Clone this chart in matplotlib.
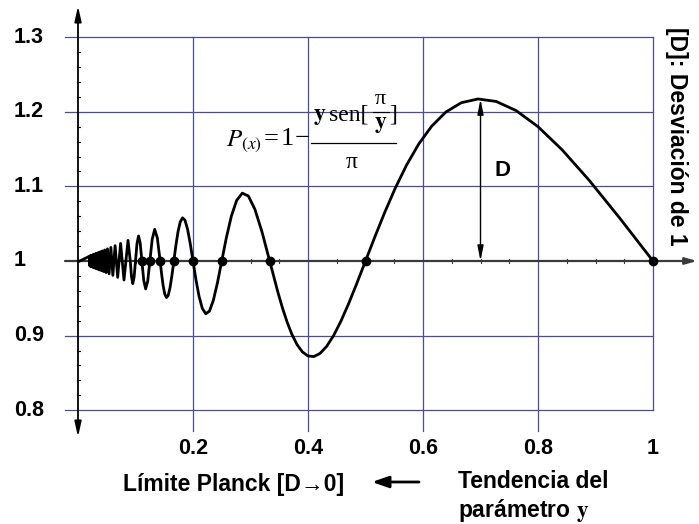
import matplotlib
matplotlib.use("Agg")
import matplotlib.pyplot as plt

plt.rcParams['mathtext.fontset'] = 'stix'
plt.rcParams['font.family'] = ['Liberation Sans', 'DejaVu Sans']

# ---- data: P(y) (y parameter, P value) ----
y_param = [0.003,
           0.02020, 0.02062, 0.02105, 0.02151, 0.02198, 0.02247, 0.02299, 0.02353, 0.02410, 0.02469,
           0.02532, 0.02597, 0.02667, 0.02740, 0.02817, 0.02899, 0.02985, 0.03077, 0.03175, 0.03279,
           0.03333, 0.03390, 0.03448, 0.03509, 0.03571, 0.03636, 0.03704, 0.03774, 0.03846, 0.03922,
           0.04000, 0.04082, 0.04167, 0.04255, 0.04348, 0.04444, 0.04545, 0.04651, 0.04762, 0.04878,
           0.05000, 0.05128, 0.05263, 0.05405, 0.05556, 0.05714, 0.05882, 0.06061, 0.06250, 0.06452,
           0.06667, 0.06897, 0.07143, 0.07407, 0.07692, 0.08000, 0.08333, 0.08696, 0.09091,
           0.09302, 0.09524, 0.09756, 0.10000, 0.10256, 0.10526, 0.10811, 0.11111, 0.11429, 0.11765,
           0.12121, 0.12500, 0.12903, 0.13333, 0.13793, 0.14286,
           0.14545, 0.14815, 0.15094, 0.15385, 0.15686, 0.16000, 0.16327, 0.16667,
           0.17021, 0.17391, 0.17778, 0.18182, 0.18605, 0.19048, 0.19512, 0.20000,
           0.20513, 0.21053, 0.21622, 0.22222, 0.22857, 0.23529, 0.24242, 0.25000,
           0.25806, 0.26667, 0.27586, 0.28571, 0.29630, 0.30769, 0.32000, 0.33333,
           0.34043, 0.34783, 0.35556, 0.36364, 0.37209, 0.38095, 0.39024, 0.40000,
           0.41026, 0.42105, 0.43243, 0.44444, 0.45714, 0.47059, 0.48485, 0.50000,
           0.51613, 0.53333, 0.55172, 0.57143, 0.59259, 0.61538, 0.64000, 0.66667,
           0.69565, 0.72727, 0.76190, 0.80000, 0.84211, 0.88889, 0.94118, 1.00000]
p_value = [1.0,
           1.00643, 0.99344, 1.00670, 0.99315, 1.00700, 0.99285, 1.00732, 0.99251, 1.00767, 0.99214,
           1.00806, 0.99173, 1.00849, 0.99128, 1.00897, 0.99077, 1.00950, 0.99021, 1.01011, 0.98956,
           1.0, 1.01079, 1.0, 0.98883, 1.0, 1.01157, 1.0, 0.98799, 1.0, 1.01248,
           1.0, 0.98701, 1.0, 1.01355, 1.0, 0.98585, 1.0, 1.01481, 1.0, 0.98447,
           1.0, 1.01632, 1.0, 0.98279, 1.0, 1.01819, 1.0, 0.98071, 1.0, 1.02054,
           1.0, 0.97805, 1.0, 1.02358, 1.0, 0.97454, 1.0, 1.02768, 1.0,
           0.97906, 0.96968, 0.97804, 1.0, 1.02309, 1.03351, 1.02433, 1.0, 0.97428, 0.96255,
           0.97272, 1.0, 1.02904, 1.04244, 1.03105, 1.0,
           0.98228, 0.96665, 0.95561, 0.95103, 0.95387, 0.96399, 0.98011, 1.0,
           1.02073, 1.03914, 1.05228, 1.05787, 1.05471, 1.04287, 1.02377, 1.0,
           0.97501, 0.95261, 0.93641, 0.92926, 0.93278, 0.94704, 0.97047, 1.0,
           1.03144, 1.06002, 1.08113, 1.09095, 1.08713, 1.06926, 1.03898, 1.0,
           0.97886, 0.95763, 0.93712, 0.91815, 0.90152, 0.88797, 0.87817, 0.87268,
           0.87192, 0.87618, 0.88555, 0.89996, 0.91916, 0.94268, 0.96989, 1.0,
           1.03205, 1.06497, 1.09757, 1.12862, 1.15684, 1.18097, 1.19981, 1.21221,
           1.21718, 1.21388, 1.20165, 1.18006, 1.14892, 1.10828, 1.05845, 1.0]

zero_x = [1.0, 0.5, 0.33333, 0.25, 0.2, 0.16667, 0.14286, 0.125, 0.11111]
zero_y = [1.0, 1.0, 1.0, 1.0, 1.0, 1.0, 1.0, 1.0, 1.0]

x_ticks = [0.2, 0.4, 0.6, 0.8, 1.0]
x_tick_labels = ['0.2', '0.4', '0.6', '0.8', '1']
y_ticks = [0.8, 0.9, 1.0, 1.1, 1.2, 1.3]
y_tick_labels = ['0.8', '0.9', '1', '1.1', '1.2', '1.3']

peak_x = 0.7
peak_y = 1.217

# ---- figure ----
W, H = 699, 524
fig = plt.figure(figsize=(W / 100, H / 100), dpi=100)
ax = fig.add_axes([0, 0, 1, 1])
ax.set_axis_off()

X0, SX = 78, 575.0     # pixel of x=0, pixels per unit
Y1, SY = 261, 746.0    # pixel of y=1, pixels per unit
ax.set_xlim(-X0 / SX, (W - X0) / SX)
ax.set_ylim(1 - (H - Y1) / SY, 1 + Y1 / SY)

def px(p):
    return (p - X0) / SX

def py(p):
    return 1 + (Y1 - p) / SY

grid_c = '#4b4b9a'
# horizontal grid lines
for yv in y_ticks:
    if yv != 1.0:
        ax.plot([px(65), 1.0], [yv, yv], color=grid_c, lw=0.9, zorder=1)
# vertical grid lines
for xv in x_ticks:
    bottom = 0.8 if xv == 1.0 else py(431)
    ax.plot([xv, xv], [bottom, 1.3], color=grid_c, lw=0.9, zorder=1)

# x axis (line at 1) with arrow
ax.annotate('', xy=(px(697), 1.0), xytext=(px(65), 1.0),
            arrowprops=dict(arrowstyle='-|>,head_length=0.7,head_width=0.2',
                            color='#3a3a3a', lw=1.6, shrinkA=0, shrinkB=0), zorder=2)
# y axis with arrows both ends
ax.annotate('', xy=(0, py(6)), xytext=(0, py(437)),
            arrowprops=dict(arrowstyle='<|-|>,head_length=0.9,head_width=0.2',
                            color='black', lw=1.3, shrinkA=0, shrinkB=0), zorder=2)

# minor tick marks
for i in range(1, 21):
    xv = i * 0.05
    if abs(xv - round(xv / 0.2) * 0.2) > 1e-6:
        ax.plot([xv, xv], [1 - 2 / SY, 1 + 2 / SY], color='#3a3a3a', lw=0.8, zorder=2)
for i in range(0, 26):
    yv = 0.8 + i * 0.02
    if abs(yv * 10 - round(yv * 10)) > 1e-6:
        ax.plot([-1.5 / SX, 1.5 / SX], [yv, yv], color='black', lw=0.8, zorder=2)

# curve
ax.plot(y_param, p_value, color='black', lw=2.0, solid_joinstyle='round', zorder=4)
ax.plot(zero_x, zero_y, 'o', color='black', ms=6, zorder=5)

# D arrow
ax.annotate('', xy=(peak_x, peak_y), xytext=(peak_x, 1.0),
            arrowprops=dict(arrowstyle='<|-|>,head_length=0.9,head_width=0.18',
                            color='black', lw=1.0, shrinkA=0, shrinkB=0), zorder=3)
ax.text(px(503), py(170), 'D', fontsize=16, fontweight='bold', ha='center', va='center')

# formula  P(x) = 1 - [y sen[pi/y]] / pi   (built from pieces)
serif = ['Liberation Serif', 'DejaVu Serif']
ax.text(px(226), py(141), r'$P_{(x)}$', fontsize=18, ha='left', va='center', zorder=6)
ax.text(px(271), py(139), '=', fontsize=19, family=serif, ha='center', va='center', zorder=6)
ax.text(px(287), py(139), '1', fontsize=19, family=serif, ha='center', va='center', zorder=6)
ax.text(px(302), py(139), '\u2212', fontsize=19, family=serif, ha='center', va='center', zorder=6)
ax.plot([px(311), px(396)], [py(143), py(143)], color='black', lw=0.9, zorder=6)
ax.text(px(313), py(116), r'$\mathbf{y}$', fontsize=17, ha='left', va='center', zorder=6)
ax.text(px(329), py(115), 'sen[', fontsize=17, family=serif, ha='left', va='center', zorder=6)
ax.text(px(380), py(99), '\u03c0', fontsize=16, family=serif, ha='center', va='center', zorder=6)
ax.plot([px(373), px(389)], [py(112), py(112)], color='black', lw=0.8, zorder=6)
ax.text(px(381), py(124), r'$\mathbf{y}$', fontsize=17, ha='center', va='center', zorder=6)
ax.text(px(393), py(115), ']', fontsize=17, family=serif, ha='center', va='center', zorder=6)
ax.text(px(352), py(162), '\u03c0', fontsize=17, family=serif, ha='center', va='center', zorder=6)

# tick labels
for yv, lab in zip(y_ticks, y_tick_labels):
    ax.text(px(14), yv, lab, fontsize=15.5, fontweight='bold', ha='left', va='center')
for xv, lab in zip(x_ticks, x_tick_labels):
    ax.text(xv, py(448), lab, fontsize=15.5, fontweight='bold', ha='center', va='center')

# right label
ax.text(px(677), py(136), '[D]: Desviación de 1', fontsize=16.5, fontweight='bold',
        rotation=270, ha='center', va='center')

# bottom texts
ax.text(px(123), py(484), 'Límite Planck [D\u21920]', fontsize=16.5, fontweight='bold',
        ha='left', va='center')
ax.annotate('', xy=(px(372), py(482)), xytext=(px(419), py(482)),
            arrowprops=dict(arrowstyle='-|>,head_length=1.0,head_width=0.35',
                            color='black', lw=2.0, shrinkA=0, shrinkB=0))
ax.text(px(458), py(482), 'Tendencia del', fontsize=16.5, fontweight='bold',
        ha='left', va='center')
ax.text(px(458), py(510), 'parámetro $\\mathbf{y}$', fontsize=16.5, fontweight='bold',
        ha='left', va='center')

fig.savefig('out.png', dpi=100)
